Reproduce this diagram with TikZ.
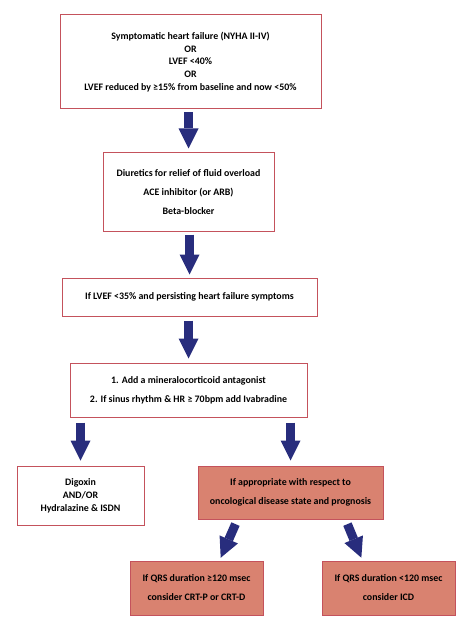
\documentclass[tikz,border=0pt]{standalone}
\usepackage{fontspec}
\setmainfont{Carlito}
\usetikzlibrary{arrows.meta}
\definecolor{boxred}{RGB}{196,82,92}
\definecolor{boxfill}{RGB}{217,130,112}
\definecolor{navy}{RGB}{40,45,125}

\begin{document}
\begin{tikzpicture}[x=1pt,y=-1pt,
                    font=\bfseries\fontsize{9.9}{12.8}\selectfont,
                    box/.style={draw=boxred,line width=1pt,inner sep=0pt,align=center},
                    hot/.style={box,fill=boxfill},
                    wide/.style={font=\bfseries\fontsize{9.9}{19}\selectfont},
                    blk/.style={color=navy,line width=9pt,
                                -{Triangle[length=20pt,width=20pt,line width=0pt]}}]
  \useasboundingbox (0,0) rectangle (474,628);

  \node[box,minimum width=261pt,minimum height=94pt] (0) at (190.5,62)
    {Symptomatic heart failure (NYHA II-IV)\\OR\\LVEF <40\%\\OR\\LVEF reduced by ≥15\% from baseline and now <50\%};
  \node[box,wide,minimum width=171pt,minimum height=78pt] (1) at (188.5,192)
    {Diuretics for relief of fluid overload\\ACE inhibitor (or ARB)\\Beta-blocker};
  \node[box,minimum width=255pt,minimum height=38pt] (2) at (189.5,297)
    {If LVEF <35\% and persisting heart failure symptoms};
  \node[box,wide,minimum width=237pt,minimum height=54pt] (3) at (188.5,390)
    {1. Add a mineralocorticoid antagonist\\2. If sinus rhythm \& HR ≥ 70bpm add Ivabradine};
  \node[box,minimum width=127pt,minimum height=59pt] (4) at (80.5,495.5)
    {Digoxin\\AND/OR\\Hydralazine \& ISDN};
  \node[hot,wide,minimum width=185pt,minimum height=53pt] (5) at (290.5,492.5)
    {If appropriate with respect to\\oncological disease state and prognosis};
  \node[hot,wide,minimum width=133pt,minimum height=54pt] (6) at (196.5,588)
    {If QRS duration ≥120 msec\\consider CRT-P or CRT-D};
  \node[hot,wide,minimum width=133pt,minimum height=54pt] (7) at (388.5,588)
    {If QRS duration <120 msec\\consider ICD};

  \path[blk] (1.north |- 0.south) edge[shorten <=3pt,shorten >=4pt] (1.north)
             (2.north |- 1.south) edge[shorten <=3pt,shorten >=3pt] (2.north)
             (3.north |- 2.south) edge[shorten <=4pt,shorten >=4pt] (3.north)
             (4.north |- 3.south) edge[shorten <=5pt,shorten >=5pt] (4.north)
             (5.north |- 3.south) edge[shorten <=5pt,shorten >=5pt] (5.north)
             ([xshift=40pt]5.south west) edge[shorten <=5pt,shorten >=3pt] ([xshift=90pt]6.north west)
             ([xshift=-38pt]5.south east) edge[shorten <=5pt,shorten >=3pt] ([xshift=41pt]7.north west);
\end{tikzpicture}
\end{document}
